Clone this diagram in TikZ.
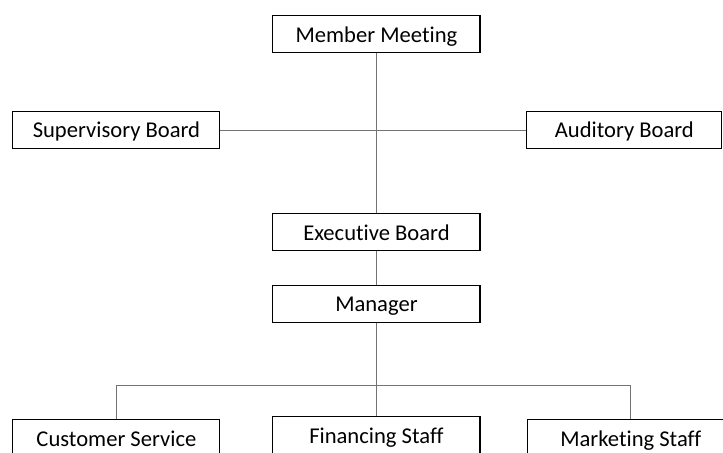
\documentclass[tikz,border=0pt]{standalone}
\usepackage{fontspec}
\setmainfont{Carlito}[Ligatures=NoCommon]
\begin{document}
\begin{tikzpicture}[
    box/.style={draw=black, line width=0.8pt, fill=white, minimum width=5.48cm,
        minimum height=0.98cm, inner sep=0pt, font=\fontsize{17}{20}\selectfont,
        text height=13pt, text depth=1pt},
    link/.style={draw=black!55, line width=0.6pt}
]
    % Área do desenho (corta as caixas de baixo)
    \useasboundingbox (0,0) rectangle (19.13,11.96);
    \clip (0,0) rectangle (19.13,11.96);

    % Caixas
    \node[box] (meeting) at (9.96,11.05) {Member Meeting};
    \node[box] (supervisory) at (3.08,8.52) {Supervisory Board};
    \node[box, minimum width=5.16cm] (auditory) at (16.52,8.52) {Auditory Board};
    \node[box] (executive) at (9.96,5.81) {Executive Board};
    \node[box] (manager) at (9.96,3.92) {Manager};
    \node[box] (service) at (3.08,0.36) {Customer Service};
    \node[box] (financing) at (9.96,0.44) {Financing Staff};
    \node[box] (marketing) at (16.69,0.36) {Marketing Staff};

    % Barramento dos setores
    \coordinate (bus) at (9.96,1.75);

    % Ligações
    \draw[link] (meeting) -- (executive);
    \draw[link] (supervisory) -- (auditory);
    \draw[link] (executive) -- (manager);
    \draw[link] (manager) -- (financing);
    \draw[link] (service.north) |- (bus) -| (marketing.north);
\end{tikzpicture}
\end{document}
